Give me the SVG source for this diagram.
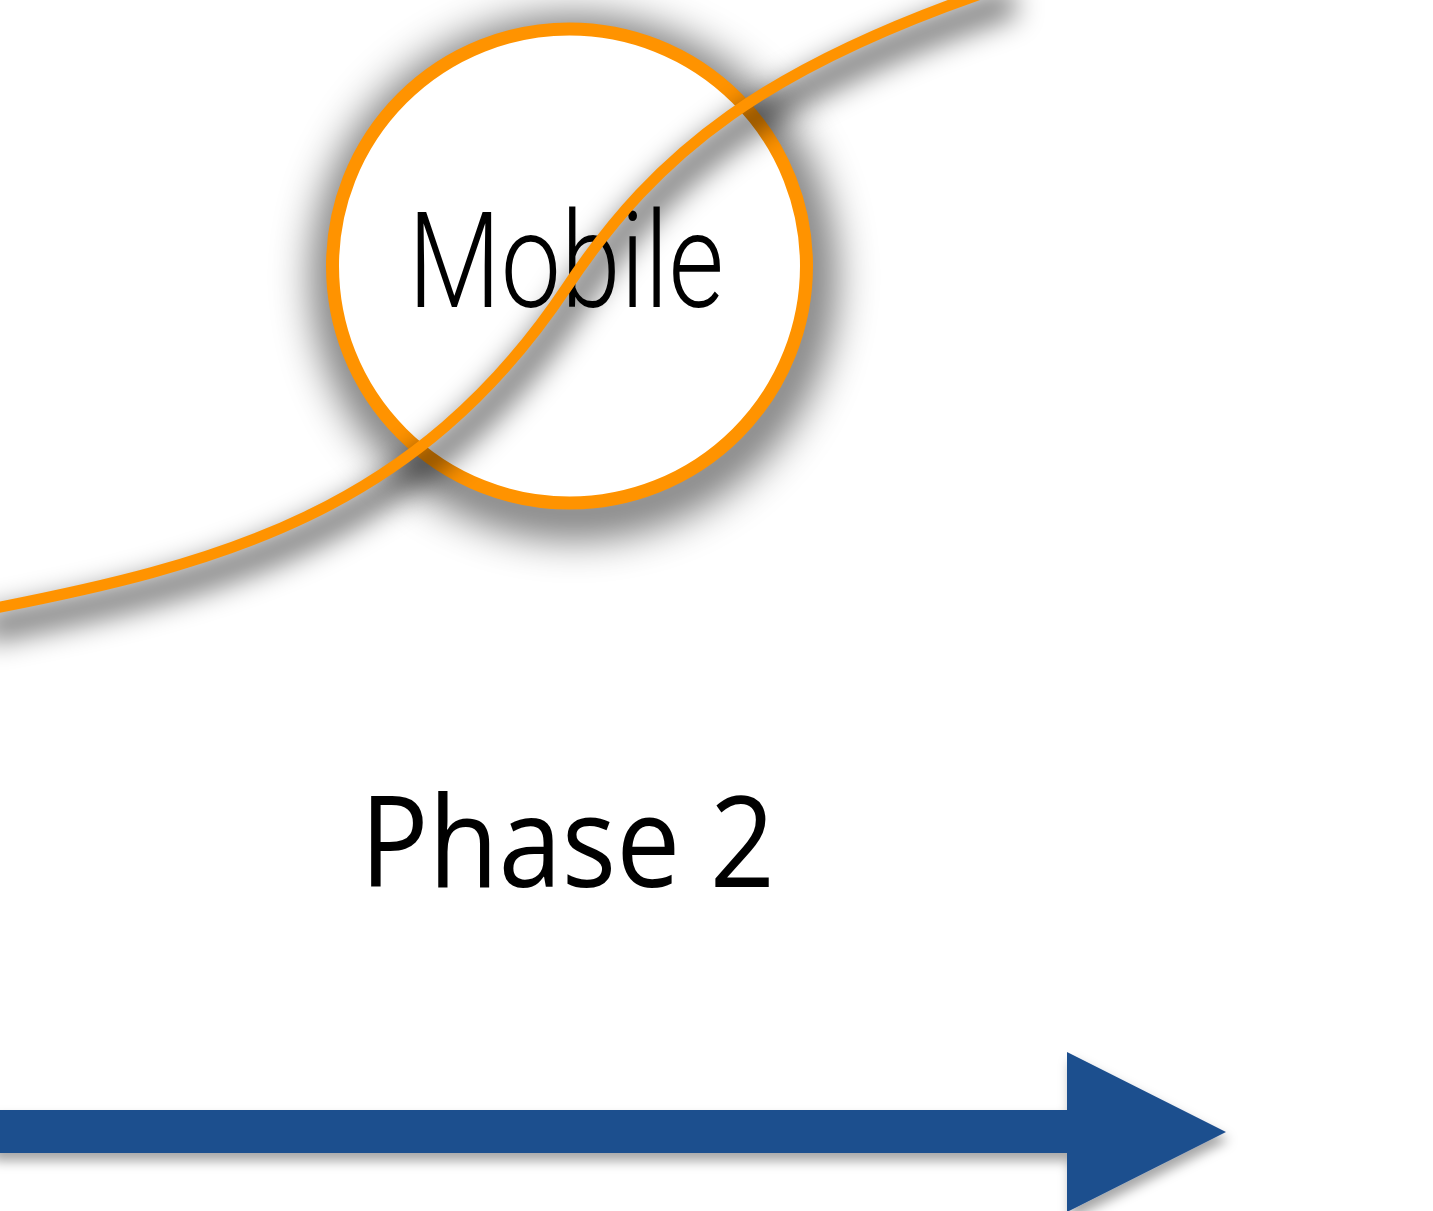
<svg xmlns="http://www.w3.org/2000/svg" width="1433" height="1211" viewBox="0 0 1433 1211">
  <defs>
    <filter id="blurWide" x="-40%" y="-40%" width="180%" height="180%">
      <feGaussianBlur stdDeviation="22"/>
    </filter>
    <filter id="blurLine" x="-30%" y="-30%" width="160%" height="170%">
      <feGaussianBlur stdDeviation="14"/>
    </filter>
    <filter id="shadowSoft" x="-30%" y="-30%" width="160%" height="160%">
      <feDropShadow dx="3" dy="8" stdDeviation="6" flood-color="#000" flood-opacity="0.35"/>
    </filter>
  </defs>
  <style>
    .ring { fill: #ffffff; stroke: #FF9300; stroke-width: 13; }
    .ring-shade { fill: none; stroke: #000; stroke-width: 44; opacity: 0.6; }
    .wave { fill: none; stroke: #FF9300; stroke-width: 11; stroke-linecap: butt; }
    .wave-shade { fill: none; stroke: #000; stroke-width: 30; opacity: 0.5; }
    .label { fill: #000000; }
    .axis { fill: #1F4F8E; }
  </style>
  <rect x="0" y="0" width="1433" height="1211" fill="#ffffff"/>

  <!-- node: mobile -->
  <g id="node-mobile">
    <circle class="ring-shade" cx="574" cy="277" r="237" filter="url(#blurWide)"/>
    <circle class="ring" cx="569.5" cy="266" r="237"/>
    <text class="label" x="408" y="307" font-family="Roboto, 'Liberation Sans', sans-serif" font-weight="300" font-size="133" textLength="316" lengthAdjust="spacingAndGlyphs">Mobile</text>
  </g>

  <!-- connectors: adoption curve and time axis -->
  <g id="connectors">
    <path class="wave-shade" filter="url(#blurLine)" transform="translate(4 17)" d="M -20 611 C 220 565 417 512 567 287 C 657 152 765 65 1010 -16"/>
    <path class="wave" d="M -20 611 C 220 565 417 512 567 287 C 657 152 765 65 1010 -16"/>
    <path class="axis" filter="url(#shadowSoft)" d="M -10 1110 L 1067 1110 L 1067 1052 L 1226 1132 L 1067 1212 L 1067 1153 L -10 1153 Z"/>
  </g>

  <!-- node: phase label -->
  <g id="node-phase">
    <text class="label" x="360" y="887" font-family="'Open Sans', 'Noto Sans', sans-serif" font-size="126" font-weight="500" textLength="415" lengthAdjust="spacingAndGlyphs">Phase 2</text>
  </g>
</svg>
